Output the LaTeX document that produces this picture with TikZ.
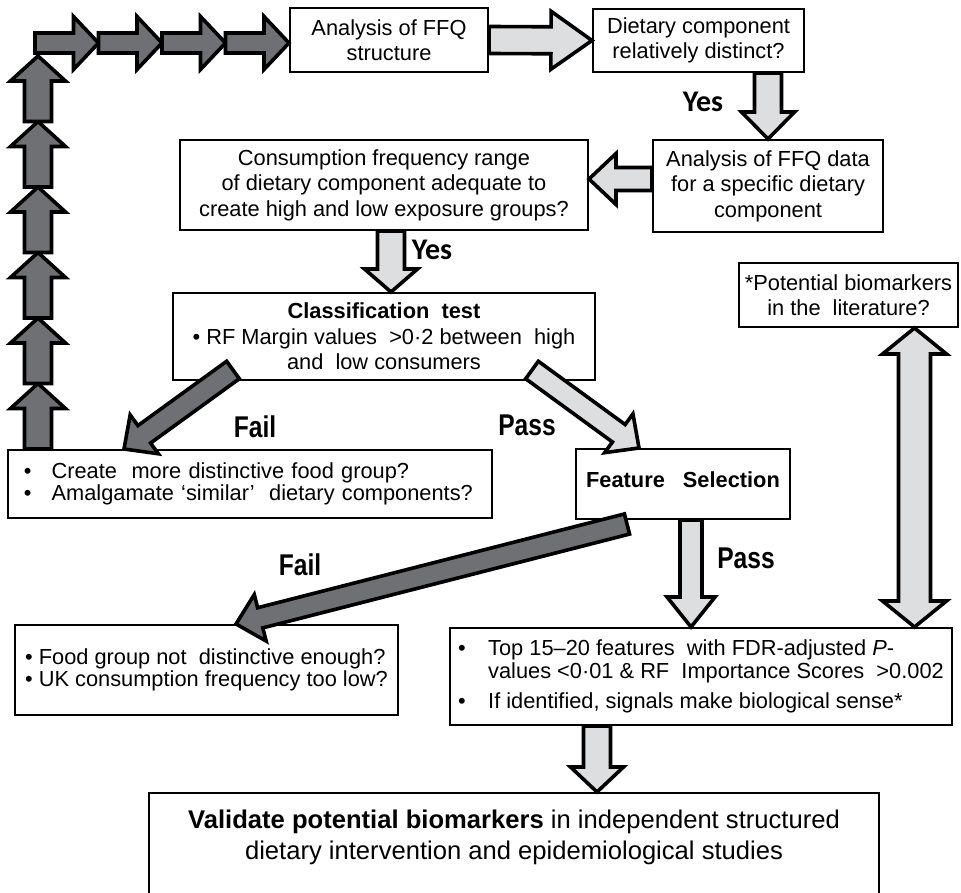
\documentclass[tikz,border=0pt]{standalone}
\usepackage{fontspec}
\setmainfont{Liberation Sans}
\newfontfamily\narrowfont[FakeStretch=0.82]{Liberation Sans}
\newfontfamily\yesfont{Carlito}
\usetikzlibrary{calc, positioning}

\definecolor{darkfill}{RGB}{111,112,116}
\definecolor{lightfill}{RGB}{221,222,224}

% sizes of the block arrows
\tikzset{
    ba shaft/.store in=\bashaft, ba head/.store in=\bahead, ba tip/.store in=\batip,
    ba shaft=6.75pt, ba head=13.25pt, ba tip=12.5pt
}
% block arrow from #2 to #3
\newcommand{\blockarrow}[3][]{%
    \path[#1] ($(#3)!\batip!(#2)$) coordinate (ba-h);
    \draw[#1] ($(#2)!\bashaft!90:(#3)$) -- ($(ba-h)!\bashaft!90:(#3)$)
        -- ($(ba-h)!\bahead!90:(#3)$) -- (#3)
        -- ($(ba-h)!\bahead!-90:(#3)$) -- ($(ba-h)!\bashaft!-90:(#3)$)
        -- ($(#2)!\bashaft!-90:(#3)$) -- cycle;
}
% block arrow with a head at both ends
\newcommand{\dblockarrow}[3][]{%
    \path[#1] ($(#3)!\batip!(#2)$) coordinate (ba-h) ($(#2)!\batip!(#3)$) coordinate (ba-t);
    \draw[#1] (#2) -- ($(ba-t)!\bahead!90:(#3)$) -- ($(ba-t)!\bashaft!90:(#3)$)
        -- ($(ba-h)!\bashaft!90:(#3)$) -- ($(ba-h)!\bahead!90:(#3)$) -- (#3)
        -- ($(ba-h)!\bahead!-90:(#3)$) -- ($(ba-h)!\bashaft!-90:(#3)$)
        -- ($(ba-t)!\bashaft!-90:(#3)$) -- ($(ba-t)!\bahead!-90:(#3)$) -- cycle;
}

\begin{document}
\begin{tikzpicture}[
    x=0.5pt, y=-0.5pt,
    box/.style={draw, line width=1pt, align=center, inner sep=0pt, font=\fontsize{10.9}{12.75}\selectfont},
    bullets/.style={align=left, font=\fontsize{10.9}{11.25}\selectfont},
    lightarr/.style={draw=black, fill=lightfill, line width=1.8pt},
    darkarr/.style={draw=black, fill=darkfill, line width=1.8pt},
    slim/.style={ba shaft=5.4pt, ba head=12pt, ba tip=12.5pt},
    decision/.style={font=\narrowfont\bfseries\fontsize{15}{18}\selectfont},
    yeslabel/.style={font=\yesfont\bfseries\fontsize{15}{17}\selectfont}
]
    \useasboundingbox (0,0) rectangle (961,892);
    \clip (0,0) rectangle (961,892);

    % boxes
    \node[box, minimum width=99pt, minimum height=32pt] (ffq) at (389,40) {Analysis of FFQ\\structure};
    \node[box, minimum width=105.5pt, minimum height=31.5pt] (distinct) at (698.5,40.5) {Dietary component\\relatively distinct?};
    \node[box, minimum width=115pt, minimum height=46pt] (ffqdata) at (768,186) {Analysis of FFQ data\\for a specific dietary\\component};
    \node[box, minimum width=204pt, minimum height=45pt] (range) at (384,185) {Consumption frequency range\\of dietary component adequate to\\create high and low exposure groups?};
    \node[box, minimum width=211pt, minimum height=43.5pt] (clf) at (384,336.5) {\textbf{Classification\ \ test}\\\textbullet\ RF Margin values\ \ >0·2 between\ \ high\\and\ \ low consumers};
    \node[box, minimum width=109.5pt, minimum height=32pt] (lit) at (848.5,295) {*Potential biomarkers\\in the\ \ literature?};
    \node[box, bullets, minimum width=242pt, minimum height=34pt, text width=226pt] (create) at (250,484)
        {\textbullet\hspace{10pt}Create\ \ more distinctive food group?\\\textbullet\hspace{10pt}Amalgamate `similar'\ \ dietary components?};
    \node[box, minimum width=107pt, minimum height=35pt, text depth=4pt] (feat) at (683,484) {\textbf{Feature\hspace{6pt} Selection}};
    \node[box, bullets, minimum width=191.5pt, minimum height=45pt] (food) at (206.5,670)
        {\textbullet\ Food group not\ \ distinctive enough?\\\textbullet\ UK consumption frequency too low?};
    \node[box, bullets, minimum width=251pt, minimum height=48.5pt] (top) at (701,676.5)
        {\makebox[15pt][l]{\textbullet}Top 15--20 features\ \ with FDR-adjusted \textit{P}-\\
         \hspace*{15pt}values <0·01 \& RF\ \ Importance Scores\ \ >0.002\\[4pt]
         \makebox[15pt][l]{\textbullet}If identified, signals make biological sense*};
    \node[box, anchor=north, minimum width=365pt, minimum height=60pt] (valid) at (514,792) {};
    \node[font=\fontsize{12.8}{15.5}\selectfont, align=center] (validtext) at ($(valid.north)+(0,45.5)$)
        {\textbf{Validate potential biomarkers} in independent structured\\dietary intervention and epidemiological studies};

    % labels
    \node[yeslabel] (yes1) at (703,102) {Yes};
    \node[yeslabel] (yes2) at (432,250) {Yes};
    \node[decision] (fail1) at (255,427) {Fail};
    \node[decision] (pass1) at (527,425) {Pass};
    \node[decision] (fail2) at (300,565) {Fail};
    \node[decision] (pass2) at (746,558) {Pass};

    % end points of the arrows
    \coordinate (looptop) at (38,56);
    \coordinate (loopturn) at (35,43);
    \coordinate (loopbase) at (create.north -| looptop);
    \coordinate (loopend) at (loopturn -| ffq.west);
    \coordinate (distinctout) at (ffqdata.north |- distinct.south);
    \coordinate (dataout) at ([yshift=3.5pt]ffqdata.west);
    \coordinate (rangein) at (dataout -| range.east);
    \coordinate (rangeout) at ([xshift=3.5pt]range.south);
    \coordinate (clfin) at (rangeout |- clf.north);
    \coordinate (failtail) at ($(clf.south west)+(61,-11)$);
    \coordinate (failtip) at ($(create.north west)+(117,0)$);
    \coordinate (passtail) at ($(clf.south east)+(-64,-11)$);
    \coordinate (passtip) at ($(feat.north west)+(64,0)$);
    \coordinate (featfail) at ($(feat.south)+(-56,4)$);
    \coordinate (foodin) at ($(food.north west)+(222,0)$);
    \coordinate (featout) at ([xshift=4pt]feat.south);
    \coordinate (topin) at (featout |- top.north);
    \coordinate (litend) at ($(lit.south)+(66,0)$);
    \coordinate (topend) at (litend |- top.north);
    \coordinate (topout) at ($(top.south west)+(148,0)$);
    \coordinate (validin) at (topout |- valid.north);

    % back to the start
    \foreach \i [evaluate=\i as \j using int(\i+1)] in {0,...,5}{
        \coordinate (up-a) at ($(loopbase)!\i/6!(looptop)$);
        \coordinate (up-b) at ($(loopbase)!\j/6!(looptop)$);
        \blockarrow[darkarr, ba shaft=6.75pt, ba head=13.75pt]{up-a}{up-b}
    }
    \foreach \i [evaluate=\i as \j using int(\i+1)] in {0,...,3}{
        \coordinate (rt-a) at ($(loopturn)!\i/4!(loopend)$);
        \coordinate (rt-b) at ($(loopturn)!\j/4!(loopend)$);
        \blockarrow[darkarr, ba shaft=5pt, ba head=13.25pt]{rt-a}{rt-b}
    }

    \blockarrow[lightarr, ba head=14.5pt, ba tip=20.5pt]{ffq.east}{distinct.west}
    \blockarrow[lightarr, ba tip=13.5pt]{distinctout}{ffqdata.north}
    \blockarrow[lightarr, ba shaft=5.75pt, ba head=12.75pt, ba tip=13.5pt]{dataout}{rangein}
    \blockarrow[lightarr, ba tip=11.5pt]{rangeout}{clfin}
    \blockarrow[darkarr, slim]{failtail}{failtip}
    \blockarrow[lightarr, slim]{passtail}{passtip}
    \blockarrow[darkarr, slim, ba shaft=5.2pt]{featfail}{foodin}
    \blockarrow[lightarr, slim, ba shaft=5.5pt, ba tip=15pt]{featout}{topin}
    \dblockarrow[lightarr, ba shaft=8pt, ba head=16pt, ba tip=13pt]{litend}{topend}
    \blockarrow[lightarr]{topout}{validin}
\end{tikzpicture}
\end{document}
